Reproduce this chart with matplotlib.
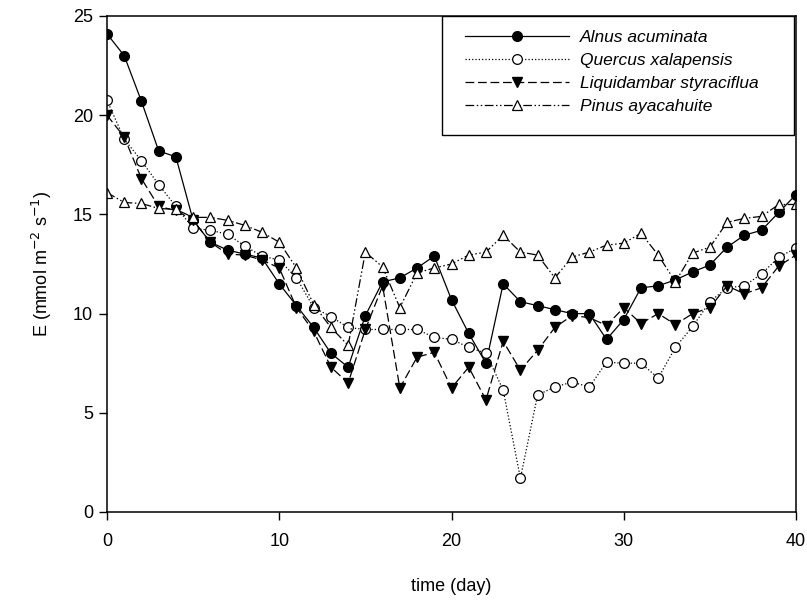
import matplotlib
matplotlib.use("Agg")
import matplotlib.pyplot as plt
from matplotlib.patches import Rectangle
import numpy as np

plt.rcParams['font.family'] = ['Liberation Sans', 'DejaVu Sans']

days = list(range(0, 41))

alnus = [24.1, 23.0, 20.7, 18.2, 17.9, 14.7, 13.6, 13.2, 13.0, 12.8, 11.5,
         10.4, 9.3, 8.0, 7.3, 9.9, 11.6, 11.8, 12.3, 12.9, 10.7,
         9.0, 7.5, 11.5, 10.6, 10.4, 10.2, 10.0, 10.0, 8.7, 9.7,
         11.3, 11.4, 11.7, 12.1, 12.45, 13.35, 13.95, 14.2, 15.1, 16.0]

quercus = [20.75, 18.8, 17.7, 16.5, 15.4, 14.3, 14.2, 14.0, 13.4, 12.9, 12.7,
           11.8, 10.3, 9.85, 9.3, 9.2, 9.2, 9.2, 9.2, 8.8, 8.7,
           8.3, 8.0, 6.15, 1.7, 5.9, 6.3, 6.55, 6.3, 7.55, 7.5,
           7.5, 6.75, 8.3, 9.35, 10.6, 11.3, 11.4, 12.0, 12.85, 13.3]

liquidambar = [20.0, 18.9, 16.8, 15.4, 15.2, 14.7, 13.6, 13.0, 12.95, 12.7, 12.3,
               10.3, 9.1, 7.3, 6.5, 9.2, 11.4, 6.25, 7.8, 8.05, 6.25,
               7.3, 5.65, 8.6, 7.15, 8.15, 9.3, 9.9, 9.8, 9.4, 10.3,
               9.5, 10.0, 9.45, 10.0, 10.3, 11.4, 11.0, 11.3, 12.4, 12.95]

pinus = [16.1, 15.6, 15.55, 15.3, 15.25, 14.85, 14.85, 14.7, 14.45, 14.1, 13.6,
         12.3, 10.45, 9.3, 8.4, 13.1, 12.35, 10.3, 12.05, 12.3, 12.5,
         12.95, 13.1, 13.95, 13.1, 12.95, 11.8, 12.85, 13.1, 13.45, 13.55,
         14.05, 12.95, 11.6, 13.05, 13.35, 14.6, 14.8, 14.9, 15.5, 15.5]

labels = ['Alnus acuminata', 'Quercus xalapensis', 'Liquidambar styraciflua', 'Pinus ayacahuite']

fig = plt.figure(figsize=(8.07, 6.04), dpi=100)
ax = fig.add_axes([107/807, 1-512/604, (796-107)/807, (512-16)/604])

lw = 0.9
ms = 7
ax.plot(days, alnus, '-', color='black', lw=lw, marker='o', ms=ms,
        mfc='black', mec='black', label=labels[0])
ax.plot(days, quercus, ':', color='black', lw=lw, marker='o', ms=ms,
        mfc='white', mec='black', mew=0.9, label=labels[1])
ax.plot(days, liquidambar, color='black', lw=lw, marker='v', ms=ms+0.5,
        mfc='black', mec='black', label=labels[2], dashes=(7, 3))
ax.plot(days, pinus, color='black', lw=lw, marker='^', ms=ms+0.5,
        mfc='white', mec='black', mew=0.9, label=labels[3],
        dashes=(7, 2, 1.2, 2, 1.2, 2))

ax.set_xlim(0, 40)
ax.set_ylim(0, 25)
ax.set_xticks([0, 10, 20, 30, 40])
ax.set_yticks([0, 5, 10, 15, 20, 25])
ax.tick_params(direction='out', length=6, width=1, labelsize=13,
               top=False, right=False)
ax.tick_params(axis='y', pad=4)
ax.tick_params(axis='x', pad=9)
for s in ax.spines.values():
    s.set_linewidth(1.1)

ax.set_xlabel('time (day)', fontsize=13, labelpad=20)
ax.set_ylabel('E (mmol m$^{-2}$ s$^{-1}$)', fontsize=13, labelpad=14)

leg = ax.legend(loc='upper left', bbox_to_anchor=((465-107)/689, 1-14/496),
                frameon=False, prop={'style': 'italic', 'size': 12.5},
                handlelength=6.0, handletextpad=0.6, labelspacing=0.45,
                numpoints=1, borderaxespad=0, borderpad=0)

ax.add_patch(Rectangle(((442-107)/689, 1-(135-16)/496), (794-442)/689, (135-16)/496,
                       transform=ax.transAxes, fill=False, edgecolor='black',
                       lw=1.0, zorder=1))

fig.savefig('out.png', dpi=100)
